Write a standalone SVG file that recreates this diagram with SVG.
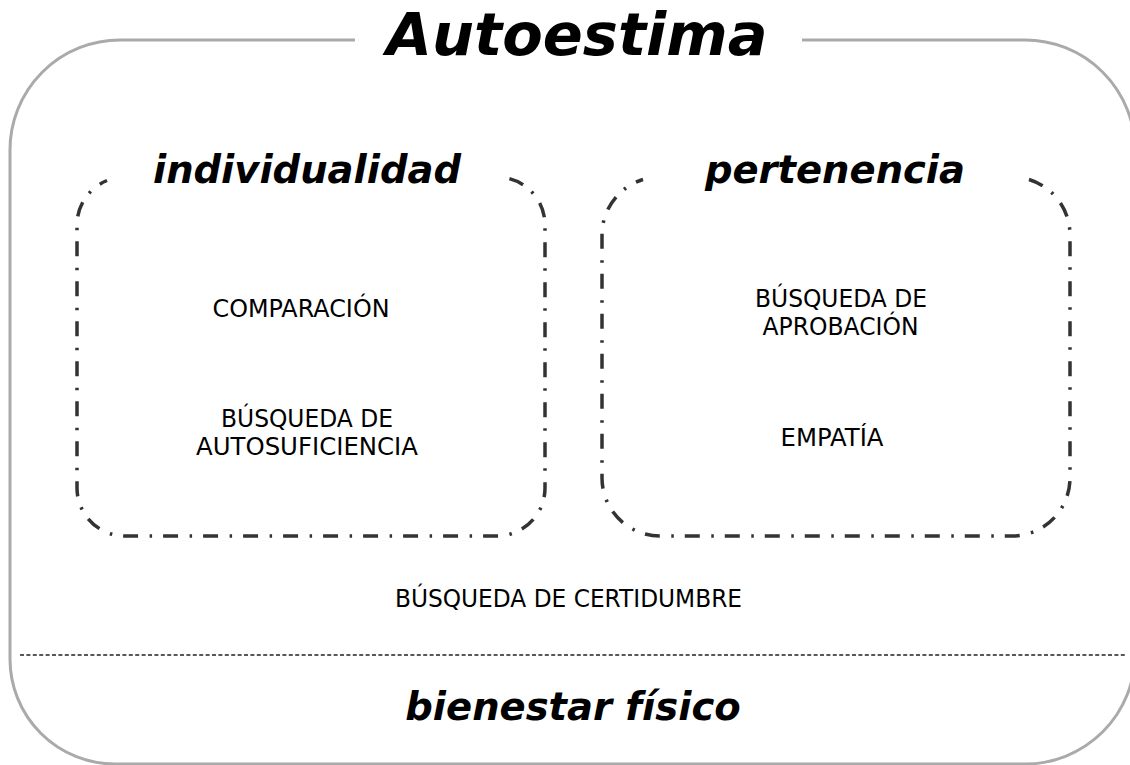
<svg xmlns="http://www.w3.org/2000/svg" width="1130" height="765" viewBox="0 0 1130 765">
  <style>
    .outer { fill: none; stroke: #aaaaaa; stroke-width: 3; }
    .box { fill: none; stroke: #333333; stroke-width: 3.5; stroke-dasharray: 15 11 2.5 11.5; }
    .divider { fill: none; stroke: #222222; stroke-width: 1.3; stroke-dasharray: 4 2.4; }
    .head { font-family: "DejaVu Sans", Verdana, sans-serif; font-weight: bold; font-style: italic; fill: #000000; text-anchor: middle; }
    .lbl { font-family: "DejaVu Sans", Tahoma, sans-serif; font-size: 25px; fill: #000000; text-anchor: middle; }
  </style>
  <rect width="1130" height="765" fill="#ffffff"/>
  <g id="frame">
    <path class="outer" d="M355,40 H120 A110,110 0 0 0 10,150 V659 A105,105 0 0 0 115,764 H1025 A110,110 0 0 0 1135,654 V150 A110,110 0 0 0 1025,40 H802"/>
    <text class="head" x="577" y="55" font-size="59">Autoestima</text>
  </g>
  <g id="connectors">
    <line class="divider" x1="20" y1="655" x2="1126" y2="655"/>
  </g>
  <g id="individualidad">
    <path class="box" d="M509.4,178.6 A48,48 0 0 1 545,225 V488 A48,48 0 0 1 497,536 H125 A48,48 0 0 1 77,488 V225 A48,48 0 0 1 107,180.5"/>
    <text class="head" x="307" y="183" font-size="38.5">individualidad</text>
    <text class="lbl" x="301" y="317" textLength="177" lengthAdjust="spacingAndGlyphs">COMPARACIÓN</text>
    <text class="lbl" x="307" y="427" textLength="172" lengthAdjust="spacingAndGlyphs">BÚSQUEDA DE</text>
    <text class="lbl" x="307" y="455" textLength="222" lengthAdjust="spacingAndGlyphs">AUTOSUFICIENCIA</text>
  </g>
  <g id="pertenencia">
    <path class="box" d="M1029,179.5 A58,58 0 0 1 1070,235 V478 A58,58 0 0 1 1012,536 H660 A58,58 0 0 1 602,478 V235 A58,58 0 0 1 643,179.5"/>
    <text class="head" x="835" y="183" font-size="38.5">pertenencia</text>
    <text class="lbl" x="841" y="307" textLength="172" lengthAdjust="spacingAndGlyphs">BÚSQUEDA DE</text>
    <text class="lbl" x="840.5" y="335" textLength="156" lengthAdjust="spacingAndGlyphs">APROBACIÓN</text>
    <text class="lbl" x="832" y="446" textLength="103" lengthAdjust="spacingAndGlyphs">EMPATÍA</text>
  </g>
  <g id="certidumbre">
    <text class="lbl" x="568.5" y="607" textLength="347" lengthAdjust="spacingAndGlyphs">BÚSQUEDA DE CERTIDUMBRE</text>
  </g>
  <g id="bienestar">
    <text class="head" x="573" y="720" font-size="38.5">bienestar físico</text>
  </g>
</svg>
